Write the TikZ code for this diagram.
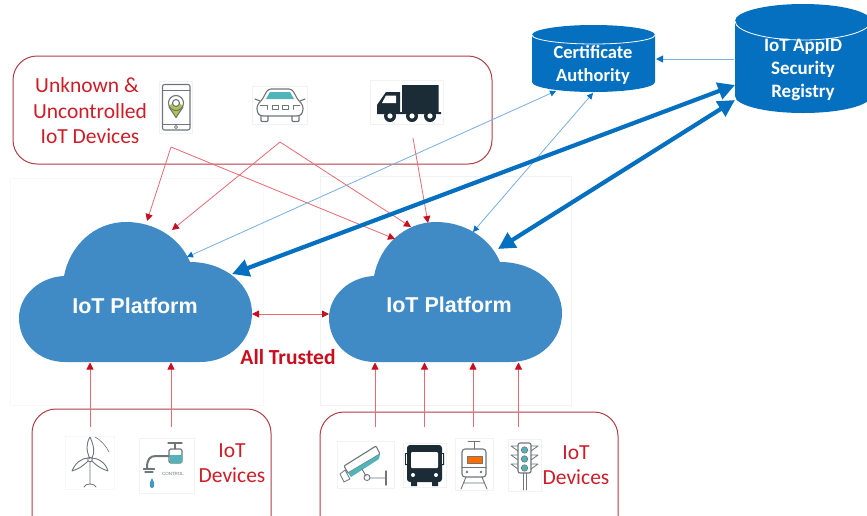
\documentclass[tikz,border=0pt]{standalone}
\usepackage{fontspec}
\setmainfont{Carlito}
\newfontfamily\arialfont{Liberation Sans}
\usetikzlibrary{arrows.meta}
\definecolor{cloudblue}{RGB}{64,138,198}
\definecolor{regblue}{RGB}{5,112,192}
\definecolor{thinblue}{RGB}{120,175,225}
\definecolor{boxred}{RGB}{178,62,70}
\definecolor{labelred}{RGB}{205,30,40}
\definecolor{linered}{RGB}{232,105,115}
\definecolor{headred}{RGB}{200,15,30}
\definecolor{icondark}{RGB}{28,44,54}
\definecolor{icongray}{RGB}{110,118,122}
\definecolor{iconteal}{RGB}{80,180,185}
\definecolor{pale}{RGB}{240,242,244}
\definecolor{paler}{RGB}{247,248,249}
\tikzset{
  redbox/.style={draw=boxred,line width=1pt,rounded corners=24pt},
  palebox/.style={draw=pale,line width=0.6pt},
  iconbg/.style={draw=pale,line width=0.4pt,fill=white},
  cloudshape/.style={fill=cloudblue},
  cloudtext/.style={text=white,font=\arialfont\bfseries\fontsize{21.5}{23}\selectfont,inner sep=0pt},
  redlabel/.style={text=labelred,font=\fontsize{21.5}{25}\selectfont,inner sep=0pt},
  cyltext/.style={text=white,font=\bfseries\fontsize{18.5}{23}\selectfont,inner sep=0pt,align=center},
  redarrow/.style={draw=linered,line width=0.8pt,-{Triangle[length=7pt,width=7pt,color=headred]}},
  redboth/.style={draw=linered,line width=0.8pt,{Triangle[length=7pt,width=7pt,color=headred]}-{Triangle[length=7pt,width=7pt,color=headred]}},
  thinarrow/.style={draw=thinblue,line width=0.8pt,{Triangle[length=6pt,width=6pt,color=regblue]}-{Triangle[length=6pt,width=6pt,color=regblue]}},
  singleblue/.style={draw=thinblue,line width=0.9pt,-{Triangle[length=7pt,width=7pt,color=regblue]}},
  thickarrow/.style={draw=regblue,line width=4.2pt,{Triangle[length=17pt,width=17pt]}-{Triangle[length=17pt,width=17pt]}},
  gline/.style={draw=icongray,line width=1.1pt,line cap=round,line join=round},
  dline/.style={draw=icondark,line width=1.2pt,line cap=round,line join=round}
}
\newcommand{\cloudpath}[1]{%
  \fill[cloudshape,shift={(#1,0)}] (65,362) .. controls (38,362) and (19,342) .. (19,318)
    .. controls (19,295) and (40,277) .. (64,276)
    .. controls (70,245) and (95,222) .. (126,222)
    .. controls (155,222) and (180,238) .. (190,262)
    .. controls (225,262) and (252,285) .. (252,313)
    .. controls (252,340) and (230,362) .. (200,362) -- cycle;}
\begin{document}
\begin{tikzpicture}[x=1pt,y=-1pt]
\useasboundingbox (0,0) rectangle (867,515);
\clip (0,0) rectangle (867,515);
\fill[white] (0,0) rectangle (867,515);

% pale panels
\draw[draw=paler,line width=0.6pt] (10,178) rectangle (263,405);
\draw[palebox] (320,176) rectangle (571,405);

% red boxes
\draw[redbox] (13,56) rectangle (492,164);
\draw[redbox] (32,409) rectangle (271,540);
\draw[redbox] (320,412) rectangle (618,540);

% clouds
\cloudpath{0}
\cloudpath{310}
\node[cloudtext] (platA) at (135,306) {IoT Platform};
\node[cloudtext] (platB) at (449,305) {IoT Platform};

% cylinders
\fill[regblue] (532,35) arc[start angle=180,end angle=-180,x radius=61.5,y radius=10]
  -- (532,82) arc[start angle=180,end angle=0,x radius=61.5,y radius=10] -- (655,35) -- cycle;
\draw[white,line width=0.8pt] (532,35) arc[start angle=180,end angle=0,x radius=61.5,y radius=9];
\node[cyltext] (ca) at (593,65) {Certificate\\Authority};
\fill[regblue] (735,21) arc[start angle=180,end angle=-180,x radius=68,y radius=17]
  -- (735,96) arc[start angle=180,end angle=0,x radius=68,y radius=17] -- (871,21) -- cycle;
\draw[white,line width=0.8pt] (735,21) arc[start angle=180,end angle=0,x radius=68,y radius=19];
\node[cyltext,font=\bfseries\fontsize{19}{23}\selectfont] (reg) at (803,69.5) {IoT AppID\\Security\\Registry};

% labels
\node[redlabel,align=center] (unk) at (90,111) {\makebox[0pt]{\hspace*{-6pt}Unknown \&}\\[0.5pt]Uncontrolled\\[0.5pt]IoT Devices};
\node[redlabel,align=center] (devA) at (232,463) {IoT\\Devices};
\node[redlabel,align=center] (devB) at (576,465) {IoT\\Devices};
\node[inner sep=0pt,text=headred,font=\bfseries\fontsize{21.5}{24}\selectfont] (trust) at (288,357) {All Trusted};

% ---- icons
% phone
\node[iconbg,minimum width=33pt,minimum height=52pt,inner sep=0pt] (phone) at (176,107) {};
\draw[gline,rounded corners=2pt] (162.5,84.5) rectangle (190,130);
\draw[gline,line width=0.7pt] (163,90) -- (190,90) (163,124) -- (190,124);
\fill[iconteal!30!yellow!70!icongray] (169,106) -- (176,118) -- (183,106) -- (176,100) -- cycle;
\draw[gline] (176,117.5) -- (169,107) (176,117.5) -- (183,107);
\draw[gline] (176,103) circle[radius=7.5];
\draw[gline,fill=white] (176,103) circle[radius=3.5];
\draw[gline,line width=0.6pt] (176,127) circle[radius=1.6];
% car
\node[iconbg,minimum width=55pt,minimum height=38pt,inner sep=0pt] (car) at (279.5,105) {};
\draw[gline,rounded corners=3pt] (260,116) -- (257,112) -- (257,105) -- (262,100) -- (268,89) -- (292,89) -- (298,100) -- (303,105) -- (303,112) -- (300,116) -- cycle;
\draw[gline,rounded corners=1pt] (261,116) -- (261,121.5) -- (268,121.5) -- (268,116) (292,116) -- (292,121.5) -- (299,121.5) -- (299,116);
\fill[iconteal] (270,92) -- (290,92) -- (294,99) -- (266,99) -- cycle;
\draw[gline] (255,99) -- (260,101) (305,99) -- (300,101);
\draw[gline,line width=0.8pt] (260,105.5) -- (267,105.5) -- (267,109.5) (293,109.5) -- (293,105.5) -- (300,105.5) (272,105.5) rectangle (278,109.5) (282,105.5) rectangle (288,109.5);
% truck
\node[iconbg,minimum width=73pt,minimum height=44pt,inner sep=0pt] (truck) at (406.5,102) {};
\fill[icondark] (402,85) rectangle (438.5,112) (400,112) rectangle (441,114);
\fill[icondark] (377,114) -- (377,105) -- (386,92) -- (400,92) -- (400,114) -- cycle;
\fill[white] (386,95.5) -- (396,95.5) -- (396,103) -- (382,103) -- cycle;
\foreach \wx in {390,412,430}{\fill[icondark] (\wx,116) circle[radius=6];\fill[white] (\wx,116) circle[radius=2.6];}
% turbine
\node[iconbg,draw=pale!60,minimum width=49pt,minimum height=53pt,inner sep=0pt] (turbine) at (90,462.5) {};
\draw[gline,line width=0.9pt] (90,459) .. controls (86,450) and (86,444) .. (90,437) .. controls (94,446) and (95,452) .. (92,458) ;
\draw[gline,line width=0.9pt] (88,461) .. controls (82,467) and (78,469) .. (72,471) .. controls (75,463) and (82,458) .. (88,458);
\draw[gline,line width=0.9pt] (92,461) .. controls (98,467) and (102,469) .. (108,471) .. controls (106,463) and (98,458) .. (92,458);
\draw[gline,line width=0.9pt] (90,459.5) circle[radius=2.3];
\draw[gline,line width=0.8pt] (90,462) -- (90,484) (84,487) .. controls (85,483) and (95,483) .. (96,487);
\draw[gline,line width=0.6pt] (95,437) .. controls (102,441) and (106,446) .. (109,452);
% tap
\node[iconbg,minimum width=55pt,minimum height=55pt,inner sep=0pt] (tap) at (166.5,465.5) {};
\draw[gline,line width=2pt] (147,468) .. controls (147,459) and (150,456) .. (156,456) -- (169,456);
\draw[gline] (143.5,469) -- (154.5,469) (145,472) -- (153,472);
\draw[gline,rounded corners=1.5pt] (169,449) rectangle (182,463);
\fill[iconteal] (169.5,455) rectangle (181.5,462.5);
\draw[gline] (175,449) -- (175,444) (168,443) -- (182,443);
\node[inner sep=0pt,text=icongray,font=\arialfont\fontsize{4.5}{5}\selectfont] (ctl) at (173,473.5) {CONTROL};
\fill[iconteal!85!blue] (152,478) .. controls (149,483) and (149,488) .. (152,488) .. controls (155,488) and (155,483) .. (152,478) -- cycle;
% camera
\node[iconbg,minimum width=57pt,minimum height=47pt,inner sep=0pt] (camera) at (365.5,464.5) {};
\draw[gline,rounded corners=1pt,fill=white] (344,466) -- (376,446) -- (380,454) -- (348,473) -- cycle;
\fill[iconteal] (348,473) -- (380,454) -- (379,459) -- (351,477) -- cycle;
\draw[gline,line width=0.8pt] (340,474) -- (345,470) -- (350,479) -- (344,482) -- cycle;
\draw[gline,line width=0.9pt] (362,469) -- (366,476) (369,478) -- (385,478);
\draw[gline,line width=0.9pt] (367,477.5) circle[radius=3];
\draw[gline,line width=1.4pt] (386,471) -- (386,485);
% bus
\node[iconbg,minimum width=43pt,minimum height=44pt,inner sep=0pt] (bus) at (424.5,465) {};
\fill[icondark,rounded corners=3pt] (407,445) rectangle (442,482);
\fill[icondark] (405,453) rectangle (444,465) (411,480) rectangle (417,486) (432,480) rectangle (438,486);
\fill[white,rounded corners=1pt] (411,452) rectangle (438,468);
\fill[white] (413,475) circle[radius=2] (436,475) circle[radius=2];
\draw[white,line width=0.4pt] (406.5,454) -- (406.5,464) (442.5,454) -- (442.5,464);
% train
\node[iconbg,minimum width=38pt,minimum height=52pt,inner sep=0pt] (train) at (474,464) {};
\draw[gline,rounded corners=3pt,fill=white] (462,449) rectangle (486,477);
\fill[orange!85!red] (467,456) rectangle (482,463);
\draw[gline,line width=0.8pt] (467,456) rectangle (482,463) (462,467) -- (486,467);
\draw[gline,line width=0.8pt] (474,449) -- (474,442) (468,441.5) -- (480,441.5);
\fill[icongray] (467,472) circle[radius=1.3] (481,472) circle[radius=1.3];
\draw[gline,line width=0.9pt] (466,477) -- (461,489) (482,477) -- (487,489) (463.5,483) -- (484.5,483);
% traffic light
\node[iconbg,minimum width=33pt,minimum height=52pt,inner sep=0pt] (tlight) at (524.5,465) {};
\draw[gline,rounded corners=2pt,fill=white] (518,443) rectangle (531,473);
\foreach \ly in {450,459,468}{\fill[iconteal] (524.5,\ly) circle[radius=3];\draw[gline,line width=0.7pt] (524.5,\ly) circle[radius=3.2];}
\foreach \ly in {446,455,464}{\draw[gline,line width=0.8pt] (518,\ly) -- (511,\ly) -- (518,\ly+5) (531,\ly) -- (538,\ly) -- (531,\ly+5);}
\draw[gline,line width=0.9pt] (523,473) -- (523,490) (526,473) -- (526,490);

% ---- connector ends
\coordinate (u1) at (171,147);
\coordinate (u2) at (280,142);
\coordinate (u3) at (413,138);
\coordinate (a1) at (147,221);
\coordinate (a2) at (172,230);
\coordinate (b1) at (395,239);
\coordinate (b2) at (411,227);
\coordinate (b3) at (428,223);
\coordinate (ml) at (252,314);
\coordinate (mr) at (329,314);
\foreach \n/\cx in {l1/90,l2/171,r1/375,r2/424.5,r3/473,r4/518.5}{
  \coordinate (\n t) at (\cx,362.5);
  \coordinate (\n b) at (\cx,427);
}
\coordinate (cab1) at (556,91);
\coordinate (cab2) at (593,93);
\coordinate (at1) at (187,257);
\coordinate (bt1) at (473,232);
\coordinate (regl) at (734,59);
\coordinate (car1) at (656,59);
\coordinate (regA) at (735,85);
\coordinate (regB) at (735,100);
\coordinate (athick) at (232,274);
\coordinate (bthick) at (498,249);

% connectors
\draw[redarrow] (u1) -- (a1);
\draw[redarrow] (u1) -- (b1);
\draw[redarrow] (u2) -- (a2);
\draw[redarrow] (u2) -- (b2);
\draw[redarrow] (u3) -- (b3);
\draw[redboth] (ml) -- (mr);
\foreach \n in {l1,l2,r1,r2,r3,r4}{\draw[redarrow] (\n b) -- (\n t);}
\draw[thinarrow] (at1) -- (cab1);
\draw[thinarrow] (bt1) -- (cab2);
\draw[singleblue] (regl) -- (car1);
\draw[thickarrow] (athick) -- (regA);
\draw[thickarrow] (bthick) -- (regB);
\end{tikzpicture}
\end{document}
